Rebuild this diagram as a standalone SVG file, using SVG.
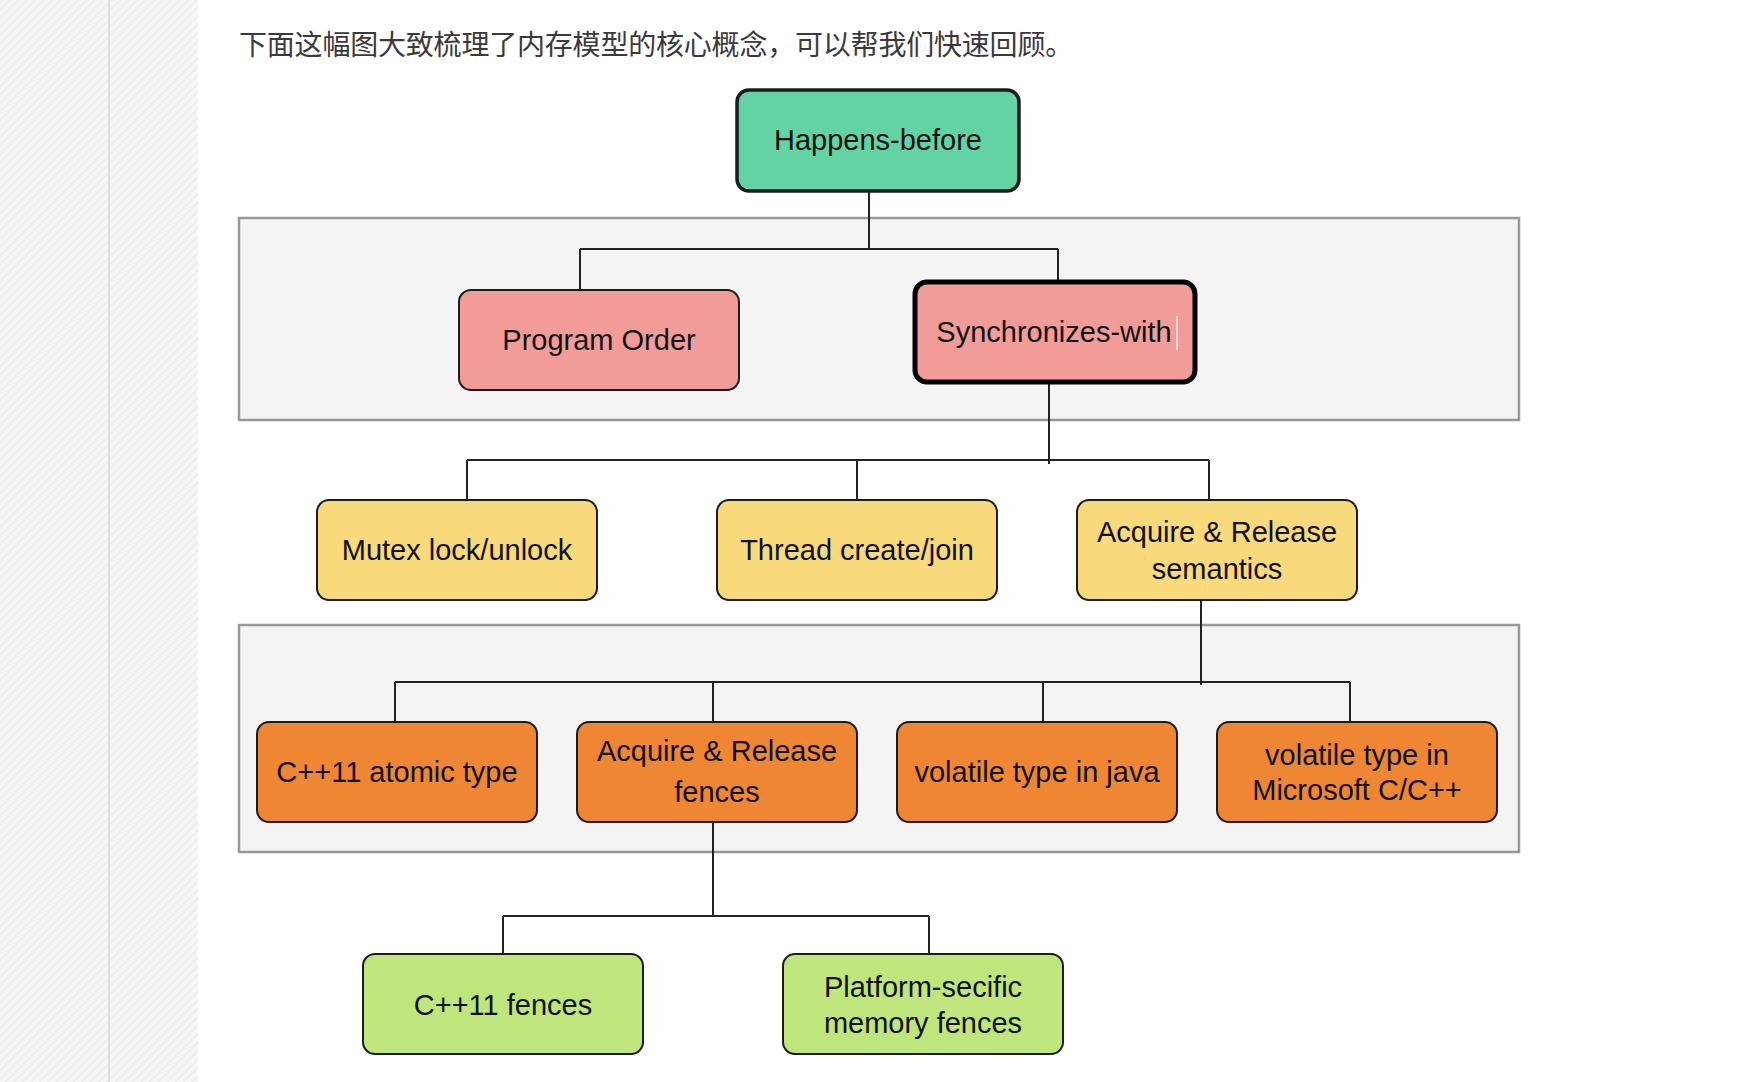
<svg xmlns="http://www.w3.org/2000/svg" width="1760" height="1082" viewBox="0 0 1760 1082">
<defs>
<pattern id="hatch" width="6" height="6" patternUnits="userSpaceOnUse" patternTransform="rotate(45)">
<rect width="6" height="6" fill="#f6f6f6"/>
<line x1="1" y1="0" x2="1" y2="6" stroke="#eeeeee" stroke-width="2"/>
</pattern>
<style>
.node rect {stroke:#1c1c1c; stroke-width:2;}
.lbl {font-family:"Liberation Sans", Arial, sans-serif; font-size:29px; fill:#111; text-anchor:middle;}
.conn path {stroke:#222; stroke-width:2; fill:none;}
.cont {fill:#f4f4f4; stroke:#999; stroke-width:2.5;}
.green {fill:#63d3a6;}
.pink {fill:#f19c99;}
.yellow {fill:#f8d97c;}
.orange {fill:#ef8634;}
.lime {fill:#bfe67c;}
</style>
</defs>
<rect x="0" y="0" width="1760" height="1082" fill="#ffffff"/>
<rect x="0" y="0" width="198" height="1082" fill="url(#hatch)"/>
<rect x="108" y="0" width="2" height="1082" fill="#dddddd"/>
<text x="239" y="55" font-family="'Noto Sans CJK SC', 'Liberation Sans', sans-serif" font-size="28" letter-spacing="-0.2" fill="#3a3a3a">下面这幅图大致梳理了内存模型的核心概念，可以帮我们快速回顾。</text>

<g id="containers">
<rect class="cont" x="239" y="218" width="1280" height="202"/>
<rect class="cont" x="239" y="625" width="1280" height="227"/>
</g>

<g id="connectors" class="conn">
<path d="M869 191 V249 M580 249 H1058 M580 249 V290 M1058 249 V282"/>
<path d="M1049 382 V464 M467 460 H1209 M467 460 V500 M857 460 V500 M1209 460 V500"/>
<path d="M1201 600 V685 M395 682 H1350 M395 682 V722 M713 682 V722 M1043 682 V722 M1350 682 V722"/>
<path d="M713 822 V916 M503 916 H929 M503 916 V954 M929 916 V954"/>
</g>

<g id="happens-before" class="node">
<rect class="green" x="737" y="90" width="282" height="101" rx="12" style="stroke-width:3.5"/>
<text class="lbl" x="878" y="150">Happens-before</text>
</g>
<g id="program-order" class="node">
<rect class="pink" x="459" y="290" width="280" height="100" rx="12"/>
<text class="lbl" x="599" y="350">Program Order</text>
</g>
<g id="synchronizes-with" class="node">
<rect class="pink" x="915" y="282" width="280" height="100" rx="12" style="stroke-width:5;stroke:#000"/>
<text class="lbl" x="1054" y="342">Synchronizes-with</text>
<line x1="1177" y1="316" x2="1177" y2="350" stroke="#ffffff" stroke-width="1.2"/>
</g>
<g id="mutex" class="node">
<rect class="yellow" x="317" y="500" width="280" height="100" rx="12"/>
<text class="lbl" x="457" y="560">Mutex lock/unlock</text>
</g>
<g id="thread" class="node">
<rect class="yellow" x="717" y="500" width="280" height="100" rx="12"/>
<text class="lbl" x="857" y="560">Thread create/join</text>
</g>
<g id="acq-rel-semantics" class="node">
<rect class="yellow" x="1077" y="500" width="280" height="100" rx="12"/>
<text class="lbl" x="1217" y="542">Acquire &amp; Release</text>
<text class="lbl" x="1217" y="579">semantics</text>
</g>
<g id="cpp11-atomic" class="node">
<rect class="orange" x="257" y="722" width="280" height="100" rx="12"/>
<text class="lbl" x="397" y="782">C++11 atomic type</text>
</g>
<g id="acq-rel-fences" class="node">
<rect class="orange" x="577" y="722" width="280" height="100" rx="12"/>
<text class="lbl" x="717" y="761">Acquire &amp; Release</text>
<text class="lbl" x="717" y="802">fences</text>
</g>
<g id="volatile-java" class="node">
<rect class="orange" x="897" y="722" width="280" height="100" rx="12"/>
<text class="lbl" x="1037" y="782">volatile type in java</text>
</g>
<g id="volatile-ms" class="node">
<rect class="orange" x="1217" y="722" width="280" height="100" rx="12"/>
<text class="lbl" x="1357" y="765">volatile type in</text>
<text class="lbl" x="1357" y="800">Microsoft C/C++</text>
</g>
<g id="cpp11-fences" class="node">
<rect class="lime" x="363" y="954" width="280" height="100" rx="12"/>
<text class="lbl" x="503" y="1015">C++11 fences</text>
</g>
<g id="platform-fences" class="node">
<rect class="lime" x="783" y="954" width="280" height="100" rx="12"/>
<text class="lbl" x="923" y="997">Platform-secific</text>
<text class="lbl" x="923" y="1033">memory fences</text>
</g>
</svg>
